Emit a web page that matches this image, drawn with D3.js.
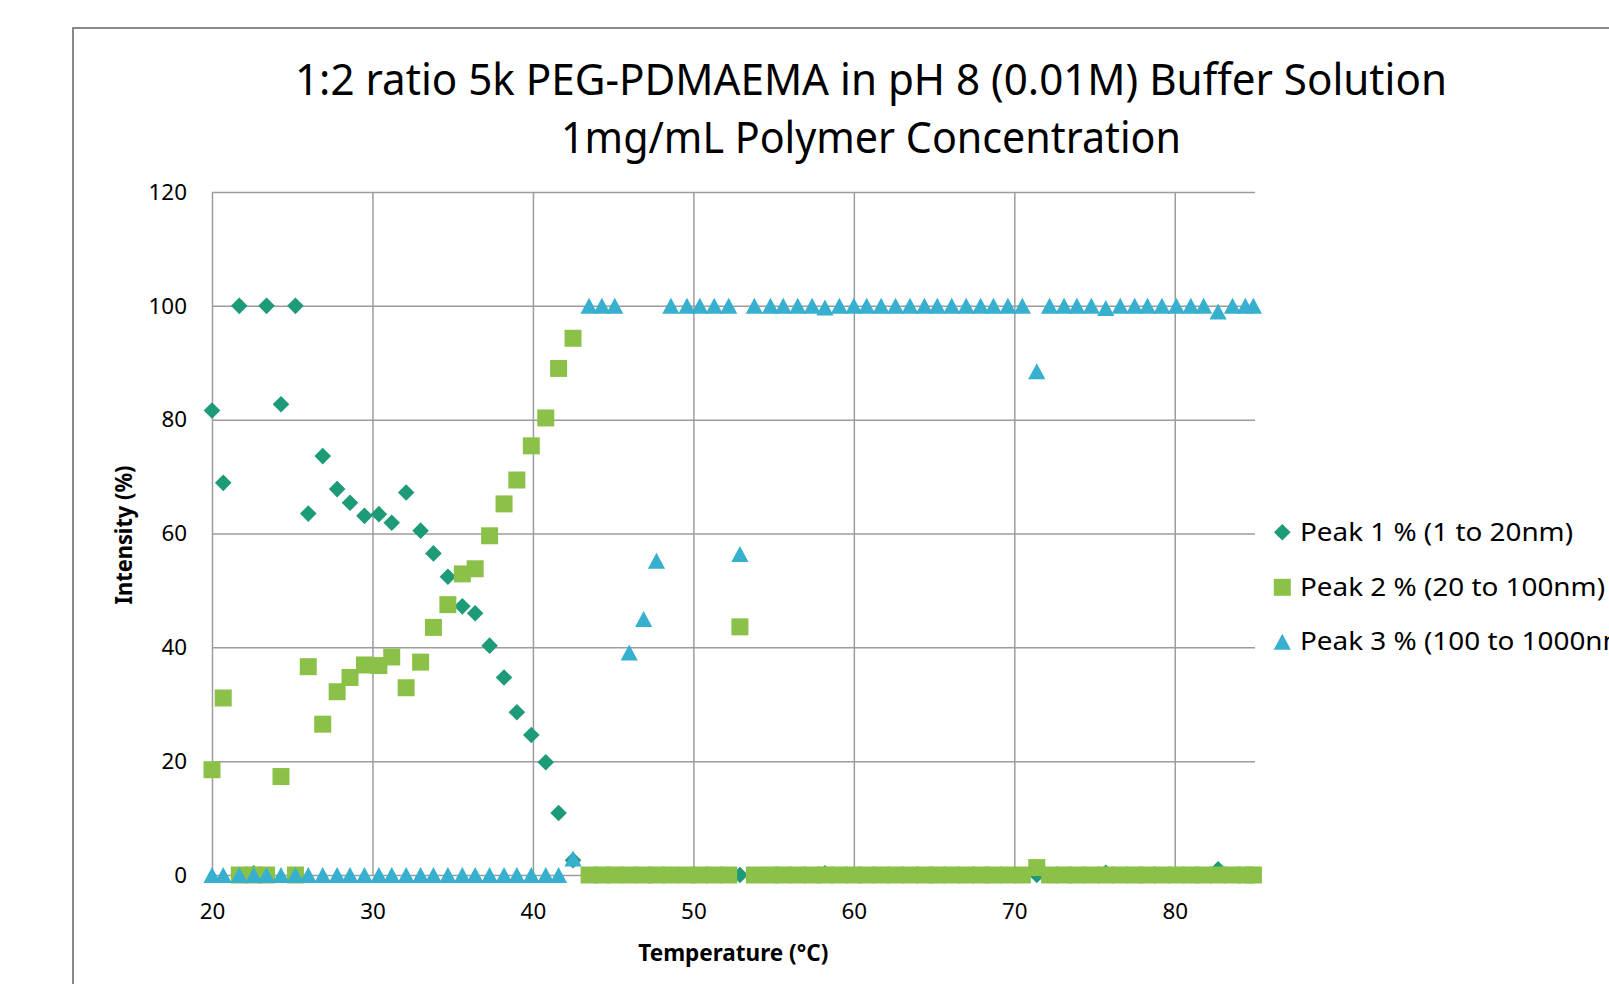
<!DOCTYPE html>
<html>
<head>
<meta charset="utf-8">
<script src="https://cdn.jsdelivr.net/npm/d3@7"></script>
<style>
  body { margin: 0; background: #fff; }
  svg { display: block; }
  text { font-family: 'Noto Sans', 'Open Sans', sans-serif; fill: #000; }
</style>
</head>
<body>
<svg id="chart" width="1609" height="984"></svg>
<script>
// ---------------- data ----------------
const temperatures = [20.0,20.7,21.7,22.6,23.4,24.3,25.2,26.0,26.9,27.8,28.6,29.5,30.4,31.2,32.1,33.0,33.8,34.7,35.6,36.4,37.3,38.2,39.0,39.9,40.8,41.6,42.5,
  43.5,44.3,45.1,46.0,46.9,47.7,48.6,49.6,50.4,51.3,52.2,52.9,
  53.8,54.8,55.6,56.5,57.4,58.2,59.1,60.0,60.8,61.7,62.6,63.5,64.4,65.2,66.1,67.0,67.9,68.7,69.6,70.5,
  71.4,
  72.2,73.1,73.9,74.8,75.7,76.6,77.5,78.3,79.2,80.1,81.0,81.8,82.7,83.6,84.4,84.9];

const peak1 = [81.6,68.9,100,0.3,100,82.7,100,63.5,73.6,67.8,65.4,63.1,63.4,61.9,67.2,60.5,56.5,52.4,47.2,46.0,40.3,34.7,28.6,24.6,19.8,10.9,2.6,
  0,0,0,0,0,0,0,0,0,0,0,0,
  0,0,0,0,0,0.3,0,0,0,0,0,0,0,0,0,0,0,0,0,0,
  0,
  0,0,0,0,0.4,0,0,0,0,0,0,0,1.0,0,0,0];

const peak2 = [18.5,31.1,0,0,0,17.3,0,36.6,26.5,32.2,34.7,36.9,36.8,38.3,32.9,37.4,43.5,47.5,52.9,53.8,59.6,65.2,69.4,75.4,80.3,89.0,94.3,
  0,0,0,0,0,0,0,0,0,0,0,43.6,
  0,0,0,0,0,0,0,0,0,0,0,0,0,0,0,0,0,0,0,0,
  1.3,
  0,0,0,0,0,0,0,0,0,0,0,0,0,0,0,0];

const peak3 = [0,0,0,0,0,0,0,0,0,0,0,0,0,0,0,0,0,0,0,0,0,0,0,0,0,0,2.9,
  100,100,100,39.1,45.0,55.2,100,100,100,100,100,56.4,
  100,100,100,100,100,99.7,100,100,100,100,100,100,100,100,100,100,100,100,100,100,
  88.5,
  100,100,100,100,99.6,100,100,100,100,100,100,100,99.0,100,100,100];

const xTicks = [20,30,40,50,60,70,80];
const yTicks = [0,20,40,60,80,100,120];
const seriesNames = ["Peak 1 % (1 to 20nm)", "Peak 2 % (20 to 100nm)", "Peak 3 % (100 to 1000nm)"];
const seriesColors = ["#1d9a78", "#8bc148", "#37afce"];
const titleLines = ["1:2 ratio 5k PEG-PDMAEMA in pH 8 (0.01M) Buffer Solution", "1mg/mL Polymer Concentration"];
const xTitle = "Temperature (\u00B0C)";
const yTitle = "Intensity (%)";

// ---------------- layout ----------------
const plot = { left: 212, top: 192, right: 1255, bottom: 875 };
const W = plot.right - plot.left, H = plot.bottom - plot.top;

const svg = d3.select("#chart");
svg.append("rect").attr("width", 1609).attr("height", 984).attr("fill", "#fff");

// chart area border (continues past the window)
svg.append("rect")
  .attr("x", 73).attr("y", 28).attr("width", 1700).attr("height", 1100)
  .attr("fill", "none").attr("stroke", "#6e6e6e").attr("stroke-width", 1.6);

const x = d3.scaleLinear().domain([20, 85]).range([0, W]);
const y = d3.scaleLinear().domain([0, 120]).range([H, 0]);

const g = svg.append("g").attr("transform", `translate(${plot.left},${plot.top})`);

// gridlines + tick labels via axes
const yAxis = d3.axisLeft(y).tickValues(yTicks).tickSize(-W).tickPadding(25).tickFormat(d3.format("d"));
const xAxis = d3.axisBottom(x).tickValues(xTicks).tickSize(-H).tickPadding(28).tickFormat(d3.format("d"));

const gy = g.append("g").call(yAxis);
const gx = g.append("g").attr("transform", `translate(0,${H})`).call(xAxis);
[gx, gy].forEach(a => {
  a.select(".domain").remove();
  a.selectAll(".tick line").attr("stroke", "#9c9c9c").attr("stroke-width", 1.5);
  a.selectAll(".tick text").attr("font-size", 22.4).attr("font-family", "'Noto Sans', sans-serif").attr("fill", "#000");
});

// marker shapes
const shapes = [
  "M0,-8.3L8.3,0L0,8.3L-8.3,0Z",
  "M-8.5,-8.5H8.5V8.5H-8.5Z",
  "M0,-8L8.6,8L-8.6,8Z"
];
const series = [peak1, peak2, peak3];

series.forEach((vals, si) => {
  g.append("g").selectAll("path")
    .data(temperatures.map((t, i) => ({ t, v: vals[i] })))
    .join("path")
    .attr("d", shapes[si])
    .attr("transform", d => `translate(${x(d.t)},${y(d.v)})`)
    .attr("fill", seriesColors[si]);
});

// title
titleLines.forEach((line, i) => {
  svg.append("text")
    .attr("x", 871).attr("y", i === 0 ? 95 : 152.5)
    .attr("text-anchor", "middle")
    .attr("font-size", 43)
    .attr("textLength", i === 0 ? 1152 : 620)
    .attr("lengthAdjust", "spacingAndGlyphs")
    .text(line);
});

// axis titles
svg.append("text")
  .attr("x", 733.3).attr("y", 960.5)
  .attr("text-anchor", "middle")
  .attr("font-size", 23.5).attr("font-weight", "bold")
  .attr("textLength", 190).attr("lengthAdjust", "spacingAndGlyphs")
  .text(xTitle);

svg.append("text")
  .attr("transform", "translate(132,535) rotate(-90)")
  .attr("text-anchor", "middle")
  .attr("font-size", 23.5).attr("font-weight", "bold")
  .attr("textLength", 139).attr("lengthAdjust", "spacingAndGlyphs")
  .text(yTitle);

// legend
const legendRows = [532.3, 587.3, 641.7];
const legendLens = [273, 305, 337];
seriesNames.forEach((name, i) => {
  svg.append("path")
    .attr("d", shapes[i])
    .attr("transform", `translate(1282.3,${legendRows[i]})`)
    .attr("fill", seriesColors[i]);
  svg.append("text")
    .attr("x", 1300).attr("y", legendRows[i] + 8.5)
    .attr("font-size", 24.5)
    .attr("textLength", legendLens[i]).attr("lengthAdjust", "spacingAndGlyphs")
    .text(name);
});
</script>
</body>
</html>
